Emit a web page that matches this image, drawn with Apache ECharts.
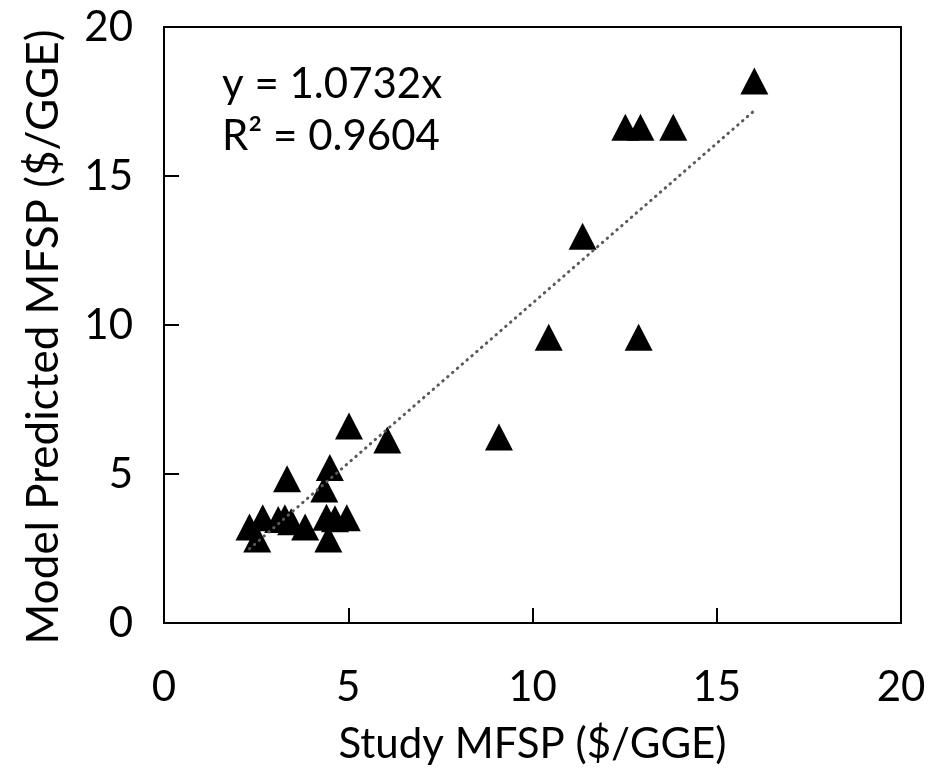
<!DOCTYPE html>
<html>
<head>
<meta charset="utf-8">
<script src="https://cdn.jsdelivr.net/npm/echarts@6/dist/echarts.min.js"></script>
<style>
  html, body { margin: 0; padding: 0; background: #fff; }
  #chart { width: 931px; height: 775px; }
</style>
</head>
<body>
<div id="chart"></div>
<script>
  // study vs model predicted MFSP ($/GGE)
  var studyMfsp = [2.32, 2.68, 2.53, 3.10, 3.28, 3.45, 3.83, 4.41, 4.64, 4.96, 4.46, 4.35, 4.50, 3.34,
    5.02, 6.06, 9.09, 10.44, 12.88, 11.36, 12.52, 12.93, 13.82, 16.02];
  var predictedMfsp = [3.22, 3.53, 2.82, 3.47, 3.53, 3.40, 3.22, 3.55, 3.50, 3.53, 2.82, 4.50, 5.22, 4.84,
    6.61, 6.14, 6.24, 9.59, 9.59, 12.98, 16.64, 16.64, 16.64, 18.19];
  var slope = 1.0732;
  var rSquared = '0.9604';
  var axisTicks = [0, 5, 10, 15, 20];

  var font = 'Lato';
  var points = [];
  for (var i = 0; i < studyMfsp.length; i++) {
    points.push([studyMfsp[i], predictedMfsp[i]]);
  }
  var xLo = Math.min.apply(null, studyMfsp);
  var xHi = Math.max.apply(null, studyMfsp);
  var trend = [[xLo, slope * xLo], [xHi, slope * xHi]];

  var myChart = echarts.init(document.getElementById('chart'));
  var option = {
    animation: false,
    backgroundColor: '#fff',
    grid: { left: 164, right: 30, top: 27, bottom: 152 },
    xAxis: {
      type: 'value',
      min: axisTicks[0],
      max: axisTicks[axisTicks.length - 1],
      interval: 5,
      name: 'Study MFSP ($/GGE)',
      nameLocation: 'middle',
      nameGap: 100,
      nameTextStyle: { fontFamily: font, fontSize: 42, color: '#000' },
      axisLine: { show: true, lineStyle: { color: '#000', width: 2 } },
      axisTick: { show: true, inside: true, length: 15, lineStyle: { color: '#000', width: 2 } },
      axisLabel: { fontFamily: font, fontSize: 42, color: '#000', margin: 43 },
      splitLine: { show: false }
    },
    yAxis: {
      type: 'value',
      min: axisTicks[0],
      max: axisTicks[axisTicks.length - 1],
      interval: 5,
      name: 'Model Predicted MFSP ($/GGE)',
      nameLocation: 'middle',
      nameGap: 98,
      nameTextStyle: { fontFamily: font, fontSize: 44, color: '#000', padding: [0, 24, 0, 0] },
      axisLine: { show: true, lineStyle: { color: '#000', width: 2 } },
      axisTick: { show: true, inside: true, length: 15, lineStyle: { color: '#000', width: 2 } },
      axisLabel: { fontFamily: font, fontSize: 42, color: '#000', margin: 31 },
      splitLine: { show: false }
    },
    graphic: [
      { type: 'rect', shape: { x: 164, y: 27, width: 737, height: 596 }, style: { fill: 'none', stroke: '#000', lineWidth: 2 }, silent: true, z: 10 },
      { type: 'text', left: 222, top: 63, style: { text: 'y = ' + slope + 'x', fontFamily: font, fontSize: 42, fill: '#000' } },
      { type: 'text', left: 222, top: 115, style: { text: 'R² = ' + rSquared, fontFamily: font, fontSize: 42, fill: '#000' } }
    ],
    series: [
      {
        type: 'scatter',
        data: points,
        symbol: 'triangle',
        symbolSize: [28, 27],
        itemStyle: { color: '#000', opacity: 1 },
        z: 3
      },
      {
        type: 'line',
        data: trend,
        symbol: 'none',
        lineStyle: { color: '#595959', width: 3, type: [0.5, 5.9], cap: 'round' },
        z: 4
      }
    ]
  };
  myChart.setOption(option);
</script>
</body>
</html>
